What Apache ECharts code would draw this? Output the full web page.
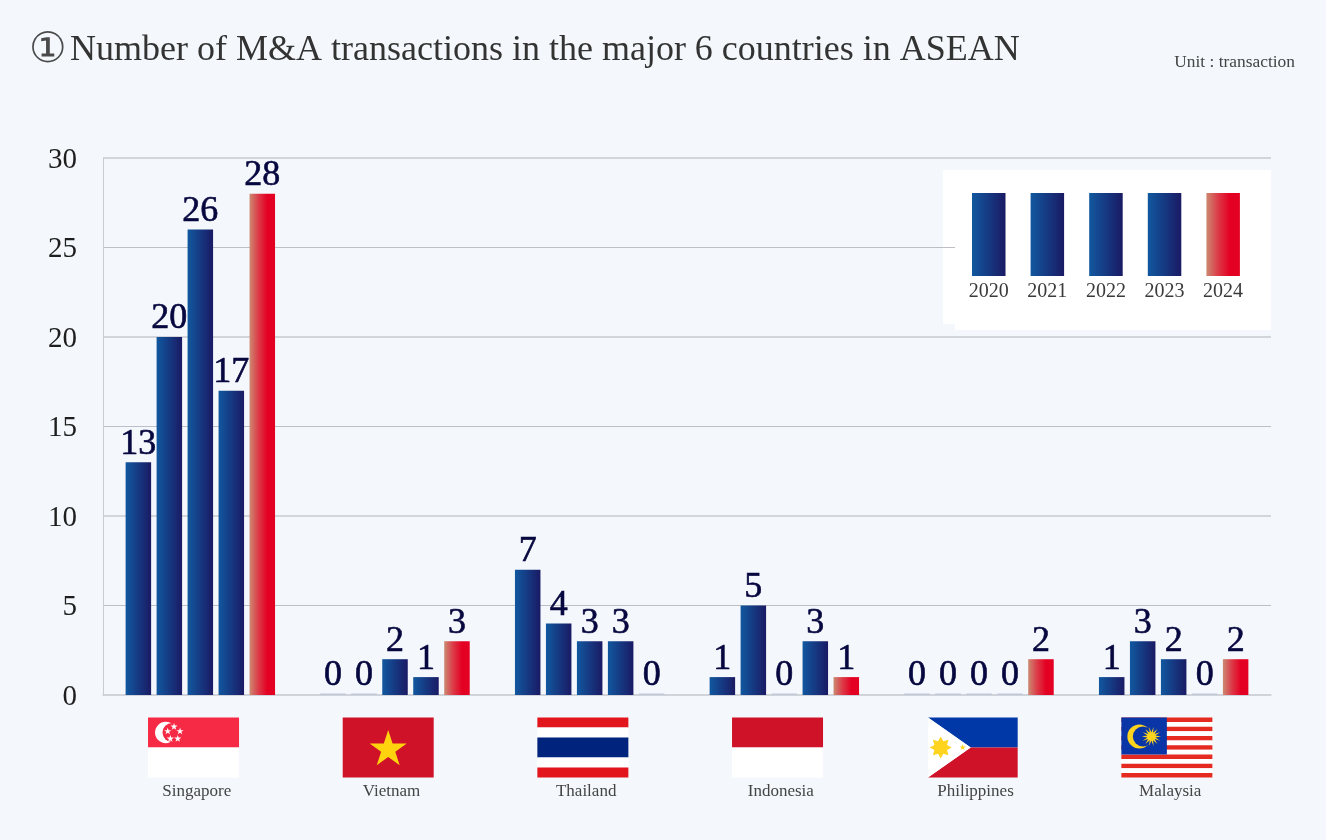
<!DOCTYPE html>
<html><head><meta charset="utf-8">
<style>html,body{margin:0;padding:0;background:#f4f8fc}#c{width:1326px;height:840px}</style>
<script src="https://cdn.jsdelivr.net/npm/echarts@6/dist/echarts.min.js"></script>
</head><body><div id="c"></div>
<script>
const countries = ['Singapore','Vietnam','Thailand','Indonesia','Philippines','Malaysia'];
const years = ['2020','2021','2022','2023','2024'];
const v2020 = [13,0,7,1,0,1];
const v2021 = [20,0,4,5,0,3];
const v2022 = [26,2,3,0,0,2];
const v2023 = [17,1,3,3,0,0];
const v2024 = [28,3,0,1,2,2];
const yTicks = [0,5,10,15,20,25,30];
const SERIF = '"Liberation Serif", serif';
const blue = () => new echarts.graphic.LinearGradient(0,0,1,0,[{offset:0,color:'#11589f'},{offset:1,color:'#1a1a64'}]);
const red = () => new echarts.graphic.LinearGradient(0,0,1,0,[{offset:0,color:'#cc8a72'},{offset:.35,color:'#dc3a48'},{offset:.7,color:'#e40022'},{offset:1,color:'#e40022'}]);

const mkSeries = (i,vals) => ({
  name: years[i], type:'bar', yAxisIndex:0, barWidth:25.5, barGap:'21.5%', barMinHeight:1.5,
  z:3,
  itemStyle:{color: i===4?red():blue()},
  label:{show:true,position:'top',distance:0,fontFamily:SERIF,fontSize:36,color:'#07073f',fontWeight:'normal',textBorderColor:'#07073f',textBorderWidth:0.6},
  data: vals.map(v=> v===0 ? {value:0,itemStyle:{color:'#c0c8da'}} : v)
});

function star(cx,cy,r,fill){
  const pts=[];
  for(let i=0;i<10;i++){const a=-Math.PI/2+i*Math.PI/5,q=i%2?r*.382:r;pts.push([cx+q*Math.cos(a),cy+q*Math.sin(a)]);}
  return {type:'polygon',shape:{points:pts},style:{fill}};
}
function sun(cx,cy,r,n,ratio,fill){
  const pts=[];
  for(let i=0;i<n*2;i++){const a=i*Math.PI/n,q=i%2?r*ratio:r;pts.push([cx+q*Math.cos(a),cy+q*Math.sin(a)]);}
  return {type:'polygon',shape:{points:pts},style:{fill}};
}
const R=(x,y,w,h,fill)=>({type:'rect',shape:{x,y,width:w,height:h},style:{fill}});
const P=(points,fill)=>({type:'polygon',shape:{points},style:{fill}});
const FW=91,FH=60;
const flags={
  Singapore:()=>[R(0,0,FW,30,'#f62a45'),R(0,30,FW,30,'#ffffff'),
    {type:'circle',shape:{cx:17.7,cy:15,r:10.7},style:{fill:'#fff'}},
    {type:'circle',shape:{cx:24,cy:15,r:9.5},style:{fill:'#f62a45'}},
    star(26,9.2,3.8,'#fff'),star(19.7,13.8,3.8,'#fff'),star(32,13.8,3.8,'#fff'),star(22.3,21.2,3.8,'#fff'),star(29.7,21.2,3.8,'#fff')],
  Vietnam:()=>[R(0,0,FW,FH,'#cf1228'),star(45.5,32,19.5,'#ffd40f')],
  Thailand:()=>[R(0,0,FW,10,'#e2141c'),R(0,10,FW,10,'#ffffff'),R(0,20,FW,20,'#00247d'),R(0,40,FW,10,'#ffffff'),R(0,50,FW,10,'#e2141c')],
  Indonesia:()=>[R(0,0,FW,30,'#cf1228'),R(0,30,FW,30,'#ffffff')],
  Philippines:()=>[
    P([[1.3,0],[FW,0],[FW,30],[44,30]],'#0038a8'),
    P([[1.3,60],[FW,60],[FW,30],[44,30]],'#cf1228'),
    P([[1.3,0],[44,30],[1.3,60]],'#fff'),
    sun(14,30,11,8,.62,'#ffd41e'),star(36,30,3.2,'#ffd41e')],
  Malaysia:()=>{
    const c=[];
    const h=FH/13;
    for(let i=0;i<13;i++)c.push(R(0,i*h,FW,h,i%2?'#ffffff':'#e52a20'));
    c.push(R(0,0,45.5,8*h,'#0a35a6'));
    c.push({type:'circle',shape:{cx:18,cy:19,r:12},style:{fill:'#ffd41e'}});
    c.push({type:'circle',shape:{cx:21.5,cy:19,r:10},style:{fill:'#0a35a6'}});
    c.push(sun(30,19,9.7,14,.42,'#ffd41e'));
    return c;
  }
};
const flagSeries={
  type:'custom', name:'flags', silent:true, clip:false, z:2,
  tooltip:{show:false},
  data:countries.map((c,i)=>[i]),
  encode:{x:0,y:-1},
  renderItem:(p,api)=>{
    const i=api.value(0);
    const pt=api.coord([i,0]);
    return {type:'group',x:pt[0]-52.3,y:pt[1]+22.5,children:flags[countries[i]]()};
  }
};

const swatch=(i)=>{
  const x=972+58.6*i;
  return [
    {type:'rect',shape:{x,y:193,width:33.5,height:83},style:{fill:i===4?red():blue()},z:5},
    {type:'text',x:x+16.7,y:292,style:{text:years[i],fontFamily:SERIF,fontSize:20,fill:'#3a3a3a',align:'center',verticalAlign:'middle'},z:5}
  ];
};

const chart=echarts.init(document.getElementById('c'),null,{renderer:'canvas'});
chart.setOption({
  backgroundColor:'#f4f8fc',
  animation:false,
  title:{text:'Number of M&A transactions in the major 6 countries in ASEAN',left:65,top:28,
    textStyle:{fontFamily:SERIF,fontSize:36,fontWeight:'normal',color:'#333'}},
  grid:{left:103,right:55,top:158,bottom:145,containLabel:false},
  xAxis:{type:'category',data:countries,
    axisTick:{show:false},
    axisLine:{lineStyle:{color:'#cfd3da',width:1.5}},
    axisLabel:{margin:88,fontFamily:SERIF,fontSize:17,color:'#444',padding:[0,7,0,0],interval:0}},
  yAxis:[
    {type:'value',min:yTicks[0],max:yTicks[yTicks.length-1],interval:5,
     axisLine:{show:true,lineStyle:{color:'#c9ccd2',width:1}},axisTick:{show:false},
     splitLine:{lineStyle:{color:['rgba(0,0,0,0)','#bcbfc6'],width:1}},
     axisLabel:{margin:26,fontFamily:SERIF,fontSize:29,color:'#1e1e1e',verticalAlign:'top',lineHeight:4}},
    {type:'value',min:yTicks[0],max:yTicks[yTicks.length-1],interval:10,position:'left',
     axisLine:{show:false},axisTick:{show:false},axisLabel:{show:false},
     splitLine:{lineStyle:{color:'#d3d5da',width:2}}}
  ],
  series:[mkSeries(0,v2020),mkSeries(1,v2021),mkSeries(2,v2022),mkSeries(3,v2023),mkSeries(4,v2024),flagSeries],
  graphic:[
    {type:'rect',shape:{x:943,y:170,width:12,height:154},style:{fill:'#fff'},z:-1},
    {type:'rect',shape:{x:955,y:170,width:316,height:160},style:{fill:'#fff'},z:4},
    ...[0,1,2,3,4].flatMap(swatch),
    {type:'text',x:48,y:51,style:{text:'①',fontFamily:SERIF,fontSize:42,fill:'#4a4a4a',align:'center',verticalAlign:'middle'},z:5},
    {type:'text',x:1295,y:62,style:{text:'Unit : transaction',fontFamily:SERIF,fontSize:17.4,fill:'#444',align:'right',verticalAlign:'middle'},z:5}
  ]
});
</script></body></html>
